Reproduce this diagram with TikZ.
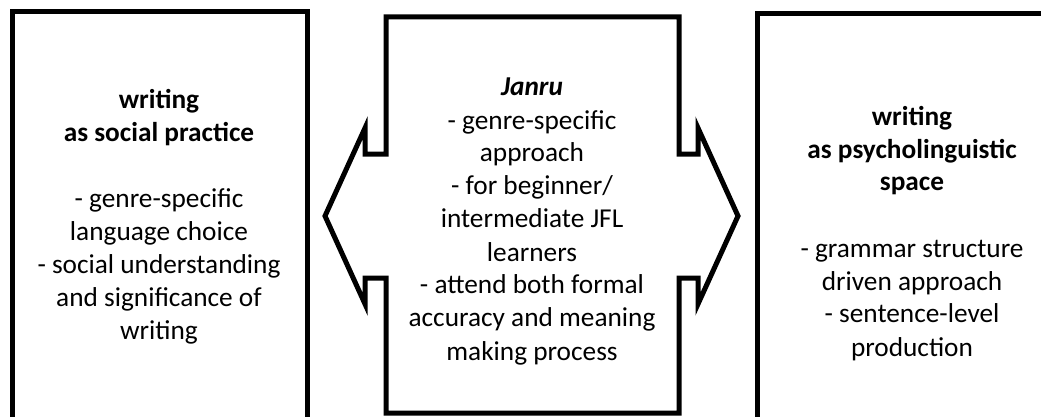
\documentclass[tikz,border=0pt]{standalone}
\usepackage{fontspec}
\setmainfont{Carlito}
\begin{document}
\begin{tikzpicture}[x=1pt,y=-1pt,
  frame/.style={line width=5pt,line join=miter,black},
  blocktext/.style={anchor=base,inner sep=0pt,font=\fontsize{27.3}{33}\selectfont}]
\useasboundingbox (0,0) rectangle (1041,417);

% outer frames (their lower parts run off the page)
\draw[frame] (12,420) -- (12,12) -- (307,12) -- (307,420);
\draw[frame] (757,420) -- (757,14) -- (1045,14);

% central panel with a double-headed arrow on both sides
\draw[frame] (386,17) -- (679,17) -- (679,154) -- (698,154) -- (698,128)
  -- (738,216) -- (698,304) -- (698,278) -- (679,278) -- (679,413)
  -- (386,413) -- (386,278) -- (365,278) -- (365,304) -- (325,216)
  -- (365,128) -- (365,154) -- (386,154) -- cycle;

\node[blocktext] (social) at (159,109) {\begin{tabular}[t]{@{}c@{}}
  \textbf{writing}\\
  \textbf{as social practice}\\
  \\
  - genre-specific\\
  language choice\\
  - social understanding\\
  and significance of\\
  writing
\end{tabular}};

\node[blocktext] (janru) at (532,96) {\begin{tabular}[t]{@{}c@{}}
  \textbf{\textit{Janru}}\\
  - genre-specific\\
  approach\\
  - for beginner/\\
  intermediate JFL\\
  learners\\
  - attend both formal\\
  accuracy and meaning\\
  making process
\end{tabular}};

\node[blocktext] (psycho) at (912,125) {\begin{tabular}[t]{@{}c@{}}
  \textbf{writing}\\
  \textbf{as psycholinguistic}\\
  \textbf{space}\\
  \\
  - grammar structure\\
  driven approach\\
  - sentence-level\\
  production
\end{tabular}};
\end{tikzpicture}
\end{document}
